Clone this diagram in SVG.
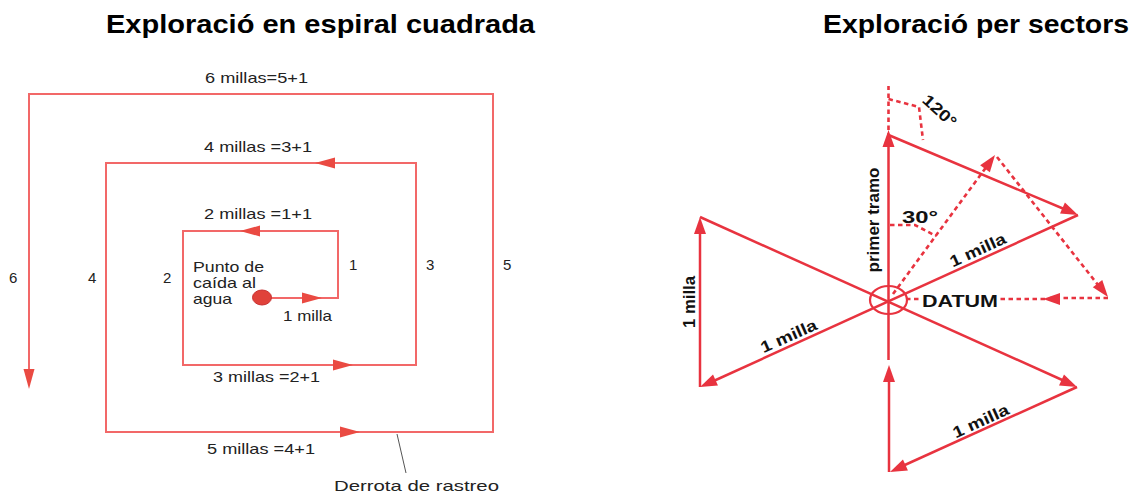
<svg xmlns="http://www.w3.org/2000/svg" width="1146" height="495" viewBox="0 0 1146 495">
<style>
.t{font-family:"Liberation Sans",Arial,sans-serif;fill:#222;font-size:15px}
.b{font-family:"Liberation Sans",Arial,sans-serif;fill:#111;font-weight:bold;font-size:16px}
.title{font-family:"Liberation Sans",Arial,sans-serif;fill:#000;font-weight:bold;font-size:25px}
.ls{fill:none;stroke:#f26868;stroke-width:2}
.rs{fill:none;stroke:#e8333f;stroke-width:2.5}
.rd{fill:none;stroke:#e8333f;stroke-width:2.6;stroke-dasharray:4.5 3.5}
.ahl{fill:#ea4a42}
.ahr{fill:#e8333f}
</style>
<defs>
<path id="ahL" d="M0,0 L-20,-5.5 L-20,5.5 Z"/>
<path id="ahR" d="M0,0 L-17,-6 L-17,6 Z"/>
</defs>
<rect width="1146" height="495" fill="#fff"/>

<g id="titles">
<text class="title" x="106" y="33" textLength="429" lengthAdjust="spacingAndGlyphs">Exploració en espiral cuadrada</text>
<text class="title" x="823" y="33" textLength="306" lengthAdjust="spacingAndGlyphs">Exploració per sectors</text>
</g>

<g id="connectors">
<!-- square spiral -->
<path class="ls" d="M262,298 H338 V231 H183 V365 H416 V163 H106 V432 H493 V94 H29 V372"/>
<g class="ahl">
<use href="#ahL" transform="translate(322,298)"/>
<use href="#ahL" transform="translate(240,231) rotate(180)"/>
<use href="#ahL" transform="translate(353,365)"/>
<use href="#ahL" transform="translate(315,163) rotate(180)"/>
<use href="#ahL" transform="translate(360,432)"/>
<use href="#ahL" transform="translate(29,389) rotate(90)" />
</g>
<line x1="397" y1="434" x2="406" y2="473" stroke="#555" stroke-width="1"/>

<!-- sector search solid -->
<path class="rs" d="M888.5,360 V135 L1070,211.5"/>
<path class="rs" d="M1078,215 L707,384"/>
<path class="rs" d="M700,387 V224"/>
<path class="rs" d="M700,217 L1070,383.5"/>
<path class="rs" d="M1077,387 L896,469"/>
<path class="rs" d="M889,472 V372"/>
<g class="ahr">
<use href="#ahR" transform="translate(888.5,130) rotate(-90)"/>
<use href="#ahR" transform="translate(1078,215) rotate(24.1)"/>
<use href="#ahR" transform="translate(700,387) rotate(155.6)"/>
<use href="#ahR" transform="translate(700,217) rotate(-90)"/>
<use href="#ahR" transform="translate(1077,387) rotate(24.4)"/>
<use href="#ahR" transform="translate(890,472) rotate(155.4)"/>
<use href="#ahR" transform="translate(889,365) rotate(-90)"/>
</g>
<!-- sector search dotted -->
<path class="rd" d="M888.5,130 V86"/>
<path class="rd" d="M888.5,99 L919,107 L923,140"/>
<path class="rd" d="M890,225 L915,225 L936,236"/>
<path class="rd" d="M893,294 L990,162"/>
<path class="rd" d="M997,157 L1102,290"/>
<path class="rd" d="M1108,298 H1050"/>
<path class="rd" d="M1045,299 H1000"/>
<path class="rd" d="M906,299 H920"/>
<g class="ahr">
<use href="#ahR" transform="translate(995,155) rotate(-54)"/>
<use href="#ahR" transform="translate(1108,297) rotate(52)"/>
<use href="#ahR" transform="translate(1043,299) rotate(180)"/>
</g>
</g>

<g id="datum">
<ellipse cx="262" cy="297.5" rx="9.5" ry="7.5" fill="#e0423a" stroke="#c83030" stroke-width="1"/>
<ellipse cx="888.5" cy="300" rx="18.5" ry="14" fill="none" stroke="#e8333f" stroke-width="2.2"/>
</g>

<g id="spiral-labels">
<text class="t" x="205" y="83" textLength="103" lengthAdjust="spacingAndGlyphs">6 millas=5+1</text>
<text class="t" x="204" y="152" textLength="108" lengthAdjust="spacingAndGlyphs">4 millas =3+1</text>
<text class="t" x="204" y="219" textLength="108" lengthAdjust="spacingAndGlyphs">2 millas =1+1</text>
<text class="t" x="213" y="382" textLength="107" lengthAdjust="spacingAndGlyphs">3 millas =2+1</text>
<text class="t" x="207" y="454" textLength="108" lengthAdjust="spacingAndGlyphs">5 millas =4+1</text>
<text class="t" x="283" y="321" textLength="49" lengthAdjust="spacingAndGlyphs">1 milla</text>
<text class="t" x="334" y="491" textLength="165" lengthAdjust="spacingAndGlyphs">Derrota de rastreo</text>
<text class="t" x="9" y="283">6</text>
<text class="t" x="88" y="283">4</text>
<text class="t" x="163" y="283">2</text>
<text class="t" x="349" y="270">1</text>
<text class="t" x="426" y="270">3</text>
<text class="t" x="503" y="270">5</text>
<text class="t" x="193" y="272" textLength="71" lengthAdjust="spacingAndGlyphs">Punto de</text>
<text class="t" x="193" y="288" textLength="63" lengthAdjust="spacingAndGlyphs">caída al</text>
<text class="t" x="193" y="304" textLength="39" lengthAdjust="spacingAndGlyphs">agua</text>
</g>

<g id="sector-labels">
<text class="b" transform="translate(936,115) rotate(42)" text-anchor="middle" textLength="40" lengthAdjust="spacingAndGlyphs">120°</text>
<text class="b" x="902" y="223" font-size="15" textLength="36" lengthAdjust="spacingAndGlyphs">30°</text>
<text class="b" transform="translate(879,220) rotate(-90)" text-anchor="middle" font-size="15" textLength="105" lengthAdjust="spacingAndGlyphs">primer tramo</text>
<text class="b" transform="translate(980,255) rotate(-24.4)" text-anchor="middle" textLength="60" lengthAdjust="spacingAndGlyphs">1 milla</text>
<text class="b" transform="translate(695,302) rotate(-90)" text-anchor="middle" textLength="52" lengthAdjust="spacingAndGlyphs">1 milla</text>
<text class="b" transform="translate(791,341) rotate(-24)" text-anchor="middle" textLength="60" lengthAdjust="spacingAndGlyphs">1 milla</text>
<text class="b" transform="translate(983,426) rotate(-24.4)" text-anchor="middle" textLength="60" lengthAdjust="spacingAndGlyphs">1 milla</text>
<text class="b" x="922" y="307" textLength="76" lengthAdjust="spacingAndGlyphs">DATUM</text>
</g>
</svg>
